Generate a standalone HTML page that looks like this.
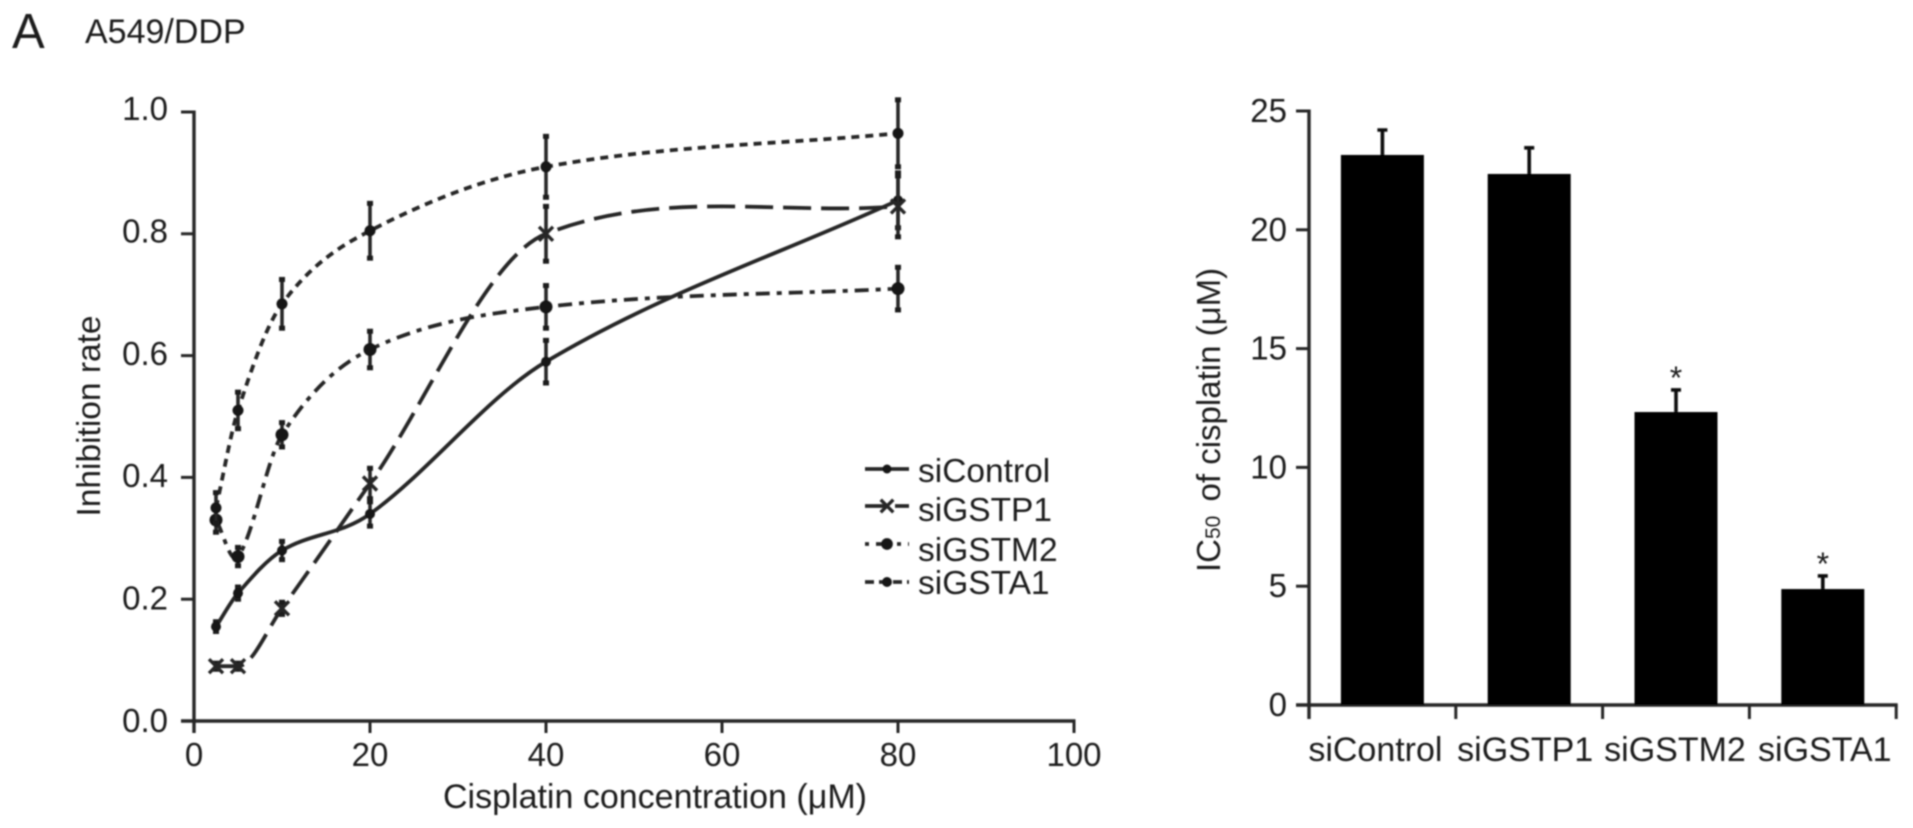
<!DOCTYPE html>
<html lang="en">
<head>
<meta charset="utf-8">
<title>A549/DDP cisplatin response</title>
<style>
  html, body { margin: 0; padding: 0; background: #fff; }
  body { width: 1913px; height: 828px; overflow: hidden; }
  svg { display: block; }
  text { font-family: "Liberation Sans", "DejaVu Sans", sans-serif; fill: #1e1e1e; }
</style>
</head>
<body>
<svg id="figure" xmlns="http://www.w3.org/2000/svg" width="1913" height="828" viewBox="0 0 1913 828">
  <defs>
    <filter id="soft" x="-2%" y="-2%" width="104%" height="104%"><feGaussianBlur stdDeviation="0.7"/></filter>
  </defs>
  <rect x="0" y="0" width="1913" height="828" fill="#fff"/>
  <g filter="url(#soft)">
    <text x="12" y="48" font-size="49">A</text>
    <text x="85" y="43" font-size="34">A549/DDP</text>

    <g id="line-chart"></g>
    <text transform="translate(100 416) rotate(-90)" text-anchor="middle" font-size="33.5">Inhibition rate</text>
    <text x="443" y="808" font-size="34">Cisplatin concentration (μM)</text>

    <g id="legend"></g>

    <g id="bar-chart"></g>
    <text transform="translate(1220 572) rotate(-90)" font-size="33">IC<tspan font-size="21">50</tspan><tspan dx="5"> of cisplatin (μM)</tspan></text>
  </g>
</svg>
<script>
// ---- Line chart data ----
const concentrations = [2.5, 5, 10, 20, 40, 80];
const seriesNames = ["siControl", "siGSTP1", "siGSTM2", "siGSTA1"];
const siControlValues = [0.155, 0.21, 0.28, 0.34, 0.59, 0.855];
const siControlErrors = [0.008, 0.01, 0.015, 0.02, 0.035, 0.045];
const siGSTP1Values = [0.09, 0.09, 0.185, 0.39, 0.80, 0.845];
const siGSTP1Errors = [0.005, 0.005, 0.01, 0.025, 0.045, 0.05];
const siGSTM2Values = [0.33, 0.27, 0.47, 0.61, 0.68, 0.71];
const siGSTM2Errors = [0.02, 0.015, 0.02, 0.03, 0.035, 0.035];
const siGSTA1Values = [0.35, 0.51, 0.685, 0.805, 0.91, 0.965];
const siGSTA1Errors = [0.025, 0.03, 0.04, 0.045, 0.05, 0.055];
const lineXTicks = [0, 20, 40, 60, 80, 100];
const lineYTicks = ["0.0", "0.2", "0.4", "0.6", "0.8", "1.0"];

// ---- Bar chart data ----
const barCategories = ["siControl", "siGSTP1", "siGSTM2", "siGSTA1"];
const barValues = [23.15, 22.35, 12.33, 4.88];
const barErrors = [1.05, 1.1, 0.93, 0.55];
const barSignificant = [false, false, true, true];
const barYTicks = [0, 5, 10, 15, 20, 25];

const SVGNS = "http://www.w3.org/2000/svg";
const INK = "#262626";

function make(parent, tag, attrs, content) {
  const el = document.createElementNS(SVGNS, tag);
  for (const k in attrs) el.setAttribute(k, attrs[k]);
  if (content !== undefined) el.textContent = content;
  parent.appendChild(el);
  return el;
}

// Axis functions
const lx = v => 194 + v * 8.8;
const ly = v => 721 - v * 609;
const by = v => 705 - v * 23.76;
const bandLeft = i => 1309 + i * 146.8;
const bandCenter = i => bandLeft(i) + 73.4;

// ---- Line chart ----
const lineG = document.getElementById("line-chart");

const lineYAxis = make(lineG, "line", { x1: lx(0), y1: ly(1) - 1.5, x2: lx(0), y2: ly(0) + 12, stroke: INK, "stroke-width": 3.4 });


const lineXAxis = make(lineG, "line", { x1: lx(0) - 13, y1: ly(0), x2: lx(100) + 1.5, y2: ly(0), stroke: INK, "stroke-width": 3.4 });



lineYTicks.forEach(t => {
  const v = parseFloat(t);
  const tick = make(lineG, "line", { x1: lx(0) - 13, y1: ly(v), x2: lx(0), y2: ly(v), stroke: INK, "stroke-width": 3 });
  
  
  const label = make(lineG, "text", { x: 168, y: ly(v) + 11 - 3 * v, "text-anchor": "end", "font-size": 33 }, t);
  
  
});
lineXTicks.forEach(t => {
  const tick = make(lineG, "line", { x1: lx(t), y1: ly(0), x2: lx(t), y2: ly(0) + 12, stroke: INK, "stroke-width": 3 });
  
  
  const label = make(lineG, "text", { x: lx(t), y: 766, "text-anchor": "middle", "font-size": 33 }, String(t));
  
  
});

function splinePath(xs, ys) {
  const n = xs.length;
  const m = xs.map((x, i) => {
    if (i === 0) return (ys[1] - ys[0]) / (xs[1] - xs[0]);
    if (i === n - 1) return (ys[n - 1] - ys[n - 2]) / (xs[n - 1] - xs[n - 2]);
    const s0 = (ys[i] - ys[i - 1]) / (xs[i] - xs[i - 1]);
    const s1 = (ys[i + 1] - ys[i]) / (xs[i + 1] - xs[i]);
    const raw = (ys[i + 1] - ys[i - 1]) / (xs[i + 1] - xs[i - 1]);
    const limit = 5 * Math.min(Math.abs(s0), Math.abs(s1));
    return Math.sign(raw) * Math.min(Math.abs(raw), limit);
  });
  let d = "M" + lx(xs[0]) + " " + ly(ys[0]);
  for (let i = 0; i < n - 1; i++) {
    const h = xs[i + 1] - xs[i];
    d += " C" + lx(xs[i] + h / 3) + " " + ly(ys[i] + m[i] * h / 3) +
         " " + lx(xs[i + 1] - h / 3) + " " + ly(ys[i + 1] - m[i + 1] * h / 3) +
         " " + lx(xs[i + 1]) + " " + ly(ys[i + 1]);
  }
  return d;
}

function drawMarker(g, kind, cx, cy, scale) {
  if (kind === "x") {
    const r = 7 * scale;
    make(g, "path", { d: "M" + (cx - r) + " " + (cy - r) + "L" + (cx + r) + " " + (cy + r) + "M" + (cx + r) + " " + (cy - r) + "L" + (cx - r) + " " + (cy + r), stroke: INK, "stroke-width": 3.4, fill: "none" });
  } else {
    const r = (kind === "large" ? 6.5 : kind === "mid" ? 5.5 : 5) * scale;
    make(g, "circle", { cx: cx, cy: cy, r: r, fill: "#141414" });
  }
}

const seriesValues = [siControlValues, siGSTP1Values, siGSTM2Values, siGSTA1Values];
const seriesErrors = [siControlErrors, siGSTP1Errors, siGSTM2Errors, siGSTA1Errors];
const seriesDash = ["", "28 10", "14 7 5 7", "8 6"];
const seriesMarker = ["dot", "x", "large", "mid"];

seriesNames.forEach((name, s) => {
  const g = make(lineG, "g", {});
  
  
  const path = make(g, "path", { d: splinePath(concentrations, seriesValues[s]), fill: "none", stroke: INK, "stroke-width": 3.8, "stroke-dasharray": seriesDash[s] });
  
  
  concentrations.forEach((c, i) => {
    const v = seriesValues[s][i];
    const e = seriesErrors[s][i];
    const cx = lx(c);
    const pg = make(g, "g", {});
    
    
    make(pg, "line", { x1: cx, y1: ly(v - e), x2: cx, y2: ly(v + e), stroke: INK, "stroke-width": 3.6 });
    [v - e, v + e].forEach(ev => {
      make(pg, "line", { x1: cx - 3, y1: ly(ev), x2: cx + 3, y2: ly(ev), stroke: "#1a1a1a", "stroke-width": 5 });
    });
    drawMarker(pg, seriesMarker[s], cx, ly(v), 1);
  });
});

// ---- Legend ----
const legendG = document.getElementById("legend");
const legendLineY = [469, 506, 544, 582];
const legendTextY = [482, 521, 561, 594];
seriesNames.forEach((name, s) => {
  const row = make(legendG, "g", {});
  
  
  make(row, "line", { x1: 865, y1: legendLineY[s], x2: 909, y2: legendLineY[s], stroke: INK, "stroke-width": 3.8, "stroke-dasharray": ["", "22 8", "4 7 14 7", "9 5"][s] });
  drawMarker(row, seriesMarker[s], 887, legendLineY[s], 0.9);
  make(row, "text", { x: 918, y: legendTextY[s], "font-size": 33.5 }, name);
});

// ---- Bar chart ----
const barG = document.getElementById("bar-chart");

const barYAxis = make(barG, "line", { x1: 1309, y1: by(25) - 1.5, x2: 1309, y2: by(0) + 14, stroke: INK, "stroke-width": 3.4 });


const barXAxis = make(barG, "line", { x1: 1296, y1: by(0), x2: bandLeft(4) + 1.5, y2: by(0), stroke: INK, "stroke-width": 3.4 });



barYTicks.forEach(t => {
  const tick = make(barG, "line", { x1: 1296, y1: by(t), x2: 1309, y2: by(t), stroke: INK, "stroke-width": 3 });
  
  
  const label = make(barG, "text", { x: 1287, y: by(t) + 11, "text-anchor": "end", "font-size": 33 }, String(t));
  
  
});
for (let i = 0; i <= barCategories.length; i++) {
  const tick = make(barG, "line", { x1: bandLeft(i), y1: by(0), x2: bandLeft(i), y2: by(0) + 14, stroke: INK, "stroke-width": 3 });
  
  
}

barCategories.forEach((cat, i) => {
  const cx = bandCenter(i);
  const w = 83;
  const bar = make(barG, "rect", { x: cx - w / 2, y: by(barValues[i]), width: w, height: by(0) - by(barValues[i]), fill: "#000" });
  
  
  const top = barValues[i] + barErrors[i];
  const err = make(barG, "path", { d: "M" + cx + " " + by(barValues[i]) + "V" + by(top) + "M" + (cx - 5) + " " + by(top) + "H" + (cx + 5), stroke: "#111", "stroke-width": 3.6, fill: "none" });
  
  
  if (barSignificant[i]) {
    const star = make(barG, "text", { x: cx, y: by(top) - 1, "text-anchor": "middle", "font-size": 32 }, "*");
    
    
  }
  const label = make(barG, "text", { x: cx - 7 + i * 3, y: 761, "text-anchor": "middle", "font-size": 34 }, cat);
  
  
});
</script>
</body>
</html>
